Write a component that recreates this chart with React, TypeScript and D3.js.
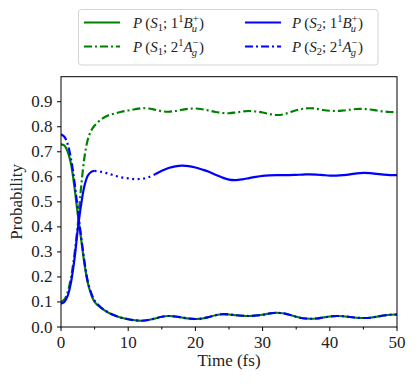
import React from 'react';
import * as d3 from 'd3';

// shared time grid (fs)
const times = [0, 0.5, 1, 1.5, 2, 2.5, 3, 3.5, 4, 4.5, 5,
  6, 7, 8, 9, 10, 11, 12, 13, 14, 15, 16, 17, 18, 19, 20,
  21, 22, 23, 24, 25, 26, 27, 28, 29, 30, 31, 32, 33, 34, 35,
  36, 37, 38, 39, 40, 41, 42, 43, 44, 45, 46, 47, 48, 49, 50];

// P(S1; 1Bu+)
const s1Bu = [0.73, 0.725, 0.70, 0.65, 0.56, 0.45, 0.35, 0.25, 0.175, 0.13, 0.10,
  0.075, 0.058, 0.046, 0.037, 0.031, 0.027, 0.025, 0.028, 0.034, 0.041, 0.044, 0.042, 0.038, 0.034, 0.032,
  0.034, 0.040, 0.047, 0.051, 0.050, 0.047, 0.045, 0.044, 0.046, 0.049, 0.054, 0.057, 0.055, 0.049, 0.041,
  0.035, 0.033, 0.034, 0.038, 0.042, 0.044, 0.043, 0.040, 0.037, 0.036, 0.037, 0.041, 0.046, 0.049, 0.050];

// P(S1; 2Ag-)
const s1Ag = [0.10, 0.11, 0.14, 0.20, 0.29, 0.41, 0.56, 0.68, 0.75, 0.785, 0.805,
  0.83, 0.845, 0.853, 0.86, 0.865, 0.87, 0.874, 0.873, 0.868, 0.862, 0.86, 0.863, 0.868, 0.872, 0.873,
  0.87, 0.865, 0.859, 0.855, 0.854, 0.857, 0.861, 0.863, 0.861, 0.857, 0.851, 0.847, 0.849, 0.857, 0.866,
  0.872, 0.874, 0.872, 0.867, 0.864, 0.863, 0.865, 0.868, 0.871, 0.871, 0.869, 0.865, 0.861, 0.859, 0.858];

// P(S2; 1Bu+)
const s2Bu = [0.093, 0.10, 0.125, 0.18, 0.27, 0.39, 0.49, 0.565, 0.605, 0.62, 0.624,
  0.62, 0.613, 0.605, 0.598, 0.594, 0.591, 0.592, 0.598, 0.61, 0.624, 0.635, 0.642, 0.645, 0.643, 0.637,
  0.629, 0.62, 0.608, 0.597, 0.589, 0.587, 0.59, 0.595, 0.60, 0.604, 0.606, 0.607, 0.607, 0.607, 0.608,
  0.609, 0.61, 0.609, 0.607, 0.605, 0.605, 0.607, 0.61, 0.614, 0.616, 0.615, 0.612, 0.609, 0.607, 0.607];

// P(S2; 2Ag-)
const s2Ag = [0.77, 0.76, 0.73, 0.67, 0.58, 0.47, 0.36, 0.26, 0.18, 0.135, 0.105,
  0.077, 0.059, 0.046, 0.037, 0.031, 0.027, 0.025, 0.028, 0.034, 0.041, 0.044, 0.042, 0.038, 0.034, 0.032,
  0.034, 0.040, 0.047, 0.051, 0.050, 0.047, 0.045, 0.044, 0.046, 0.049, 0.054, 0.057, 0.055, 0.049, 0.041,
  0.035, 0.033, 0.034, 0.038, 0.042, 0.044, 0.043, 0.040, 0.037, 0.036, 0.037, 0.041, 0.046, 0.049, 0.050];

// part of the S2;1Bu curve drawn dotted
const dottedRange = [5, 14];

const xTicks = [0, 10, 20, 30, 40, 50];
const xMinorTicks = [5, 15, 25, 35, 45];
const yTicks = [0, 0.1, 0.2, 0.3, 0.4, 0.5, 0.6, 0.7, 0.8, 0.9];

const GREEN = '#008000';
const BLUE = '#0000ff';
const DASHDOT = '8,3,2,3';
const FONT = "'Liberation Serif', 'DejaVu Serif', serif";

const W = 415, H = 384;
const m = { left: 61, right: 397, top: 76.7, bottom: 327 };

type Pt = [number, number];

const Label = ({ x, y, s, n, state, sym }: { x: number; y: number; s: string; n: string; state: string; sym: string }) => (
  <text x={x} y={y} style={{ fontFamily: FONT }} fontSize={15} fill="#222">
    <tspan fontStyle="italic">P</tspan>
    <tspan dx={3}>(</tspan>
    <tspan fontStyle="italic">S</tspan>
    <tspan fontSize={10.5} dy={3}>{s}</tspan>
    <tspan dy={-3}>; {n}</tspan>
    <tspan fontSize={10.5} dy={-6}>1</tspan>
    <tspan fontStyle="italic" dy={6}>{state}</tspan>
    <tspan fontSize={10.5} dy={-6}>{sym}</tspan>
    <tspan fontSize={10.5} fontStyle="italic" dx={-7} dy={10}>{state === 'B' ? 'u' : 'g'}</tspan>
    <tspan dx={2} dy={-4}>)</tspan>
  </text>
);

export default function App() {
  const x = d3.scaleLinear().domain([0, 50]).range([m.left, m.right]);
  const y = d3.scaleLinear().domain([0, 1]).range([m.bottom, m.top]);

  const line = d3.line<Pt>()
    .x(d => x(d[0]))
    .y(d => y(d[1]))
    .curve(d3.curveCatmullRom.alpha(0.5));

  const pts = (vals: number[]): Pt[] => times.map((t, i) => [t, vals[i]]);

  const blue = pts(s2Bu);
  const blueA = blue.filter(d => d[0] <= dottedRange[0]);
  const blueDot = blue.filter(d => d[0] >= dottedRange[0] && d[0] <= dottedRange[1]);
  const blueB = blue.filter(d => d[0] >= dottedRange[1]);

  const lw = 2.2;
  const txt = { fontFamily: FONT };

  return (
    <svg width={W} height={H} style={{ position: 'absolute', left: 0, top: 0, background: '#fff' }}>
      <defs>
        <clipPath id="plot">
          <rect x={m.left} y={m.top} width={m.right - m.left} height={m.bottom - m.top} />
        </clipPath>
      </defs>

      <g clipPath="url(#plot)" fill="none" strokeWidth={lw}>
        <path d={line(pts(s1Bu)) ?? ''} stroke={GREEN} />
        <path d={line(pts(s1Ag)) ?? ''} stroke={GREEN} strokeDasharray={DASHDOT} />
        <path d={line(blueA) ?? ''} stroke={BLUE} />
        <path d={line(blueDot) ?? ''} stroke={BLUE} strokeDasharray="2,3.5" />
        <path d={line(blueB) ?? ''} stroke={BLUE} />
        <path d={line(pts(s2Ag)) ?? ''} stroke={BLUE} strokeDasharray={DASHDOT} />
      </g>

      {/* frame */}
      <rect x={m.left} y={m.top} width={m.right - m.left} height={m.bottom - m.top}
        fill="none" stroke="#000" strokeWidth={1} />

      {/* x axis */}
      {xTicks.map(t => (
        <g key={'x' + t}>
          <line x1={x(t)} x2={x(t)} y1={m.bottom} y2={m.bottom + 4} stroke="#000" />
          <text x={x(t)} y={m.bottom + 20.5} textAnchor="middle" style={txt} fontSize={17} fill="#222">{t}</text>
        </g>
      ))}
      {xMinorTicks.map(t => (
        <line key={'xm' + t} x1={x(t)} x2={x(t)} y1={m.bottom} y2={m.bottom + 2.5} stroke="#000" />
      ))}
      <text x={(m.left + m.right) / 2} y={366} textAnchor="middle" style={txt} fontSize={17} fill="#222">Time (fs)</text>

      {/* y axis */}
      {yTicks.map(t => (
        <g key={'y' + t}>
          <line x1={m.left - 4} x2={m.left} y1={y(t)} y2={y(t)} stroke="#000" />
          <text x={m.left - 8.5} y={y(t) + 5.5} textAnchor="end" style={txt} fontSize={17} fill="#222">{t.toFixed(1)}</text>
        </g>
      ))}
      <text transform={`translate(22,${(m.top + m.bottom) / 2}) rotate(-90)`} textAnchor="middle"
        style={txt} fontSize={17} fill="#222">Probability</text>

      {/* legend */}
      <rect x={78.5} y={9.5} width={299.5} height={55.5} rx={3} fill="#fff" fillOpacity={0.8} stroke="#d4d4d4" />
      <line x1={84} x2={120} y1={22.5} y2={22.5} stroke={GREEN} strokeWidth={lw} />
      <line x1={84} x2={120} y1={46.5} y2={46.5} stroke={GREEN} strokeWidth={lw} strokeDasharray={DASHDOT} />
      <line x1={245} x2={281} y1={22.5} y2={22.5} stroke={BLUE} strokeWidth={lw} />
      <line x1={245} x2={281} y1={46.5} y2={46.5} stroke={BLUE} strokeWidth={lw} strokeDasharray={DASHDOT} />
      <Label x={133} y={27.5} s="1" n="1" state="B" sym="+" />
      <Label x={133} y={51.5} s="1" n="2" state="A" sym="−" />
      <Label x={292} y={27.5} s="2" n="1" state="B" sym="+" />
      <Label x={292} y={51.5} s="2" n="2" state="A" sym="−" />
    </svg>
  );
}
